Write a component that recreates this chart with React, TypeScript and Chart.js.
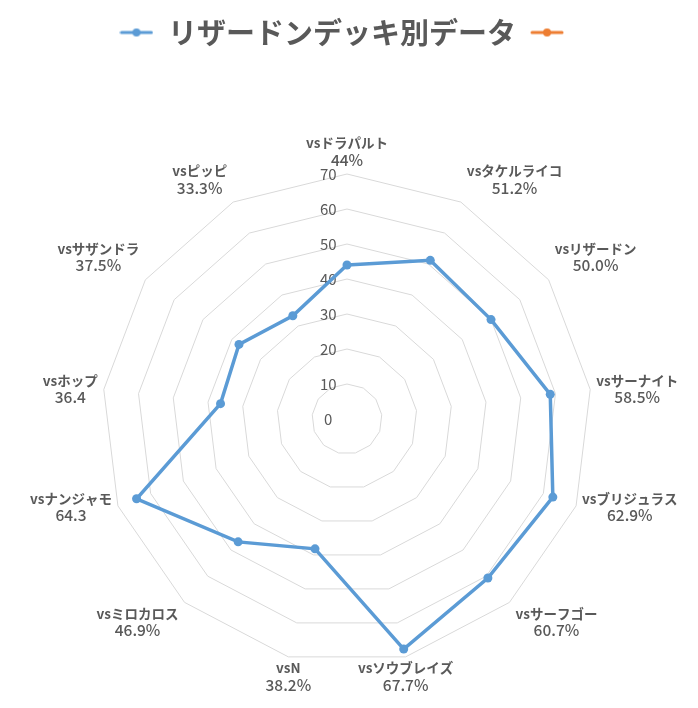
import { useEffect, useRef } from "react";
import { Chart, registerables } from "chart.js";

Chart.register(...registerables);

const opponents = [
  "vsドラパルト", "vsタケルライコ", "vsリザードン", "vsサーナイト", "vsブリジュラス",
  "vsサーフゴー", "vsソウブレイズ", "vsN", "vsミロカロス", "vsナンジャモ",
  "vsホップ", "vsサザンドラ", "vsピッピ",
];
const valueTexts = [
  "44%", "51.2%", "50.0%", "58.5%", "62.9%", "60.7%", "67.7%",
  "38.2%", "46.9%", "64.3", "36.4", "37.5%", "33.3%",
];
const winRates = [44, 51.2, 50.0, 58.5, 62.9, 60.7, 67.7, 38.2, 46.9, 64.3, 36.4, 37.5, 33.3];
const seriesName = "リザードンデッキ別データ";

const BLUE = "#5B9BD5";
const ORANGE = "#ED7D31";
const TEXT = "#595959";
const FONT = "'Noto Sans CJK JP', 'Noto Sans', sans-serif";
const NAME_FONT = `bold 13.5px ${FONT}`;
const VALUE_FONT = `500 15.5px ${FONT}`;
const LINE = 16.5;
const GAP_X = 6;
const GAP_TOP = 6;
const GAP_BOTTOM = 3;

// ticks sit left of the centre line, like in excel
const tickText = (v: any) => `${v}\u2002\u2002\u2002\u2002\u2002`;

// excel-style legend marker: short line with a dot in the middle
function makeMarker(color: string) {
  const c = document.createElement("canvas");
  c.width = 34;
  c.height = 10;
  const ctx = c.getContext("2d")!;
  ctx.strokeStyle = color;
  ctx.lineWidth = 3;
  ctx.lineCap = "round";
  ctx.beginPath();
  ctx.moveTo(2, 5);
  ctx.lineTo(32, 5);
  ctx.stroke();
  ctx.fillStyle = color;
  ctx.beginPath();
  ctx.arc(17, 5, 4, 0, Math.PI * 2);
  ctx.fill();
  return c;
}

// point labels drawn centred per line, placed next to the outer ring like excel does
const excelLabels = {
  id: "excelLabels",
  afterDatasetsDraw(chart: any) {
    const r = chart.scales.r;
    const ctx: CanvasRenderingContext2D = chart.ctx;
    ctx.save();
    ctx.fillStyle = TEXT;
    ctx.textAlign = "center";
    ctx.textBaseline = "middle";
    ctx.font = `15px ${FONT}`;
    ctx.fillText(tickText(0), r.xCenter, r.yCenter);

    (chart.data.labels as string[][]).forEach((lines, i) => {
      const p = r.getPointPosition(i, r.drawingArea);
      const theta = p.angle + Math.PI / 2;
      const s = Math.sin(theta);
      const c = Math.cos(theta);
      ctx.font = NAME_FONT;
      const w1 = ctx.measureText(lines[0]).width;
      ctx.font = VALUE_FONT;
      const w2 = ctx.measureText(lines[1]).width;
      const w = Math.max(w1, w2);
      const h = LINE * 2;
      let cx = p.x;
      if (s > 0.35) cx = p.x + GAP_X + w / 2;
      else if (s < -0.35) cx = p.x - GAP_X - w / 2;
      let cy = p.y - c * 3;
      if (c > 0.5) cy = p.y - GAP_TOP - h / 2;
      else if (c < -0.5) cy = p.y + GAP_BOTTOM + h / 2;
      ctx.font = NAME_FONT;
      ctx.fillText(lines[0], cx, cy - LINE / 2);
      ctx.font = VALUE_FONT;
      ctx.fillText(lines[1], cx, cy + LINE / 2);
    });
    ctx.restore();
  },
};

export default function App() {
  const canvasRef = useRef<HTMLCanvasElement>(null);

  useEffect(() => {
    const canvas = canvasRef.current;
    if (!canvas) return;
    const markers = [makeMarker(BLUE), makeMarker(ORANGE)];

    const chart = new Chart(canvas, {
      type: "radar",
      data: {
        labels: opponents.map((name, i) => [name, valueTexts[i]]),
        datasets: [
          {
            label: seriesName,
            data: winRates,
            borderColor: BLUE,
            backgroundColor: BLUE,
            borderWidth: 3.5,
            pointRadius: 4.5,
            pointBackgroundColor: BLUE,
            pointBorderWidth: 0,
            fill: false,
          },
          {
            label: "",
            data: [],
            borderColor: ORANGE,
            backgroundColor: ORANGE,
            borderWidth: 3,
            fill: false,
          },
        ],
      },
      options: {
        animation: false,
        responsive: true,
        maintainAspectRatio: false,
        layout: { padding: { top: 4, bottom: 0, left: 0, right: 0 } },
        plugins: {
          tooltip: { enabled: false },
          legend: {
            position: "top",
            labels: {
              usePointStyle: true,
              pointStyleWidth: 34,
              padding: 14,
              color: TEXT,
              font: { family: FONT, size: 29, weight: "bold" },
              generateLabels: (ch: Chart) =>
                Chart.defaults.plugins.legend.labels
                  .generateLabels(ch)
                  .map((item: any, i: number) => ({ ...item, pointStyle: markers[i] })),
            },
          },
        },
        scales: {
          r: {
            min: 0,
            max: 70,
            angleLines: { display: false },
            grid: { color: "#d9d9d9", lineWidth: 1 },
            ticks: {
              stepSize: 10,
              showLabelBackdrop: false,
              color: TEXT,
              font: { family: FONT, size: 15 },
              callback: tickText,
            },
            pointLabels: { display: false },
            // leave room for the labels the way the original sheet does
            afterFit: (scale: any) => {
              scale.xCenter = 347;
              scale.yCenter = 419;
              scale.drawingArea = 245;
            },
          },
        },
      },
      plugins: [excelLabels],
    });

    return () => chart.destroy();
  }, []);

  return (
    <div style={{ position: "fixed", left: 0, top: 0, width: 698, height: 708, background: "#fff" }}>
      <canvas ref={canvasRef} />
    </div>
  );
}
